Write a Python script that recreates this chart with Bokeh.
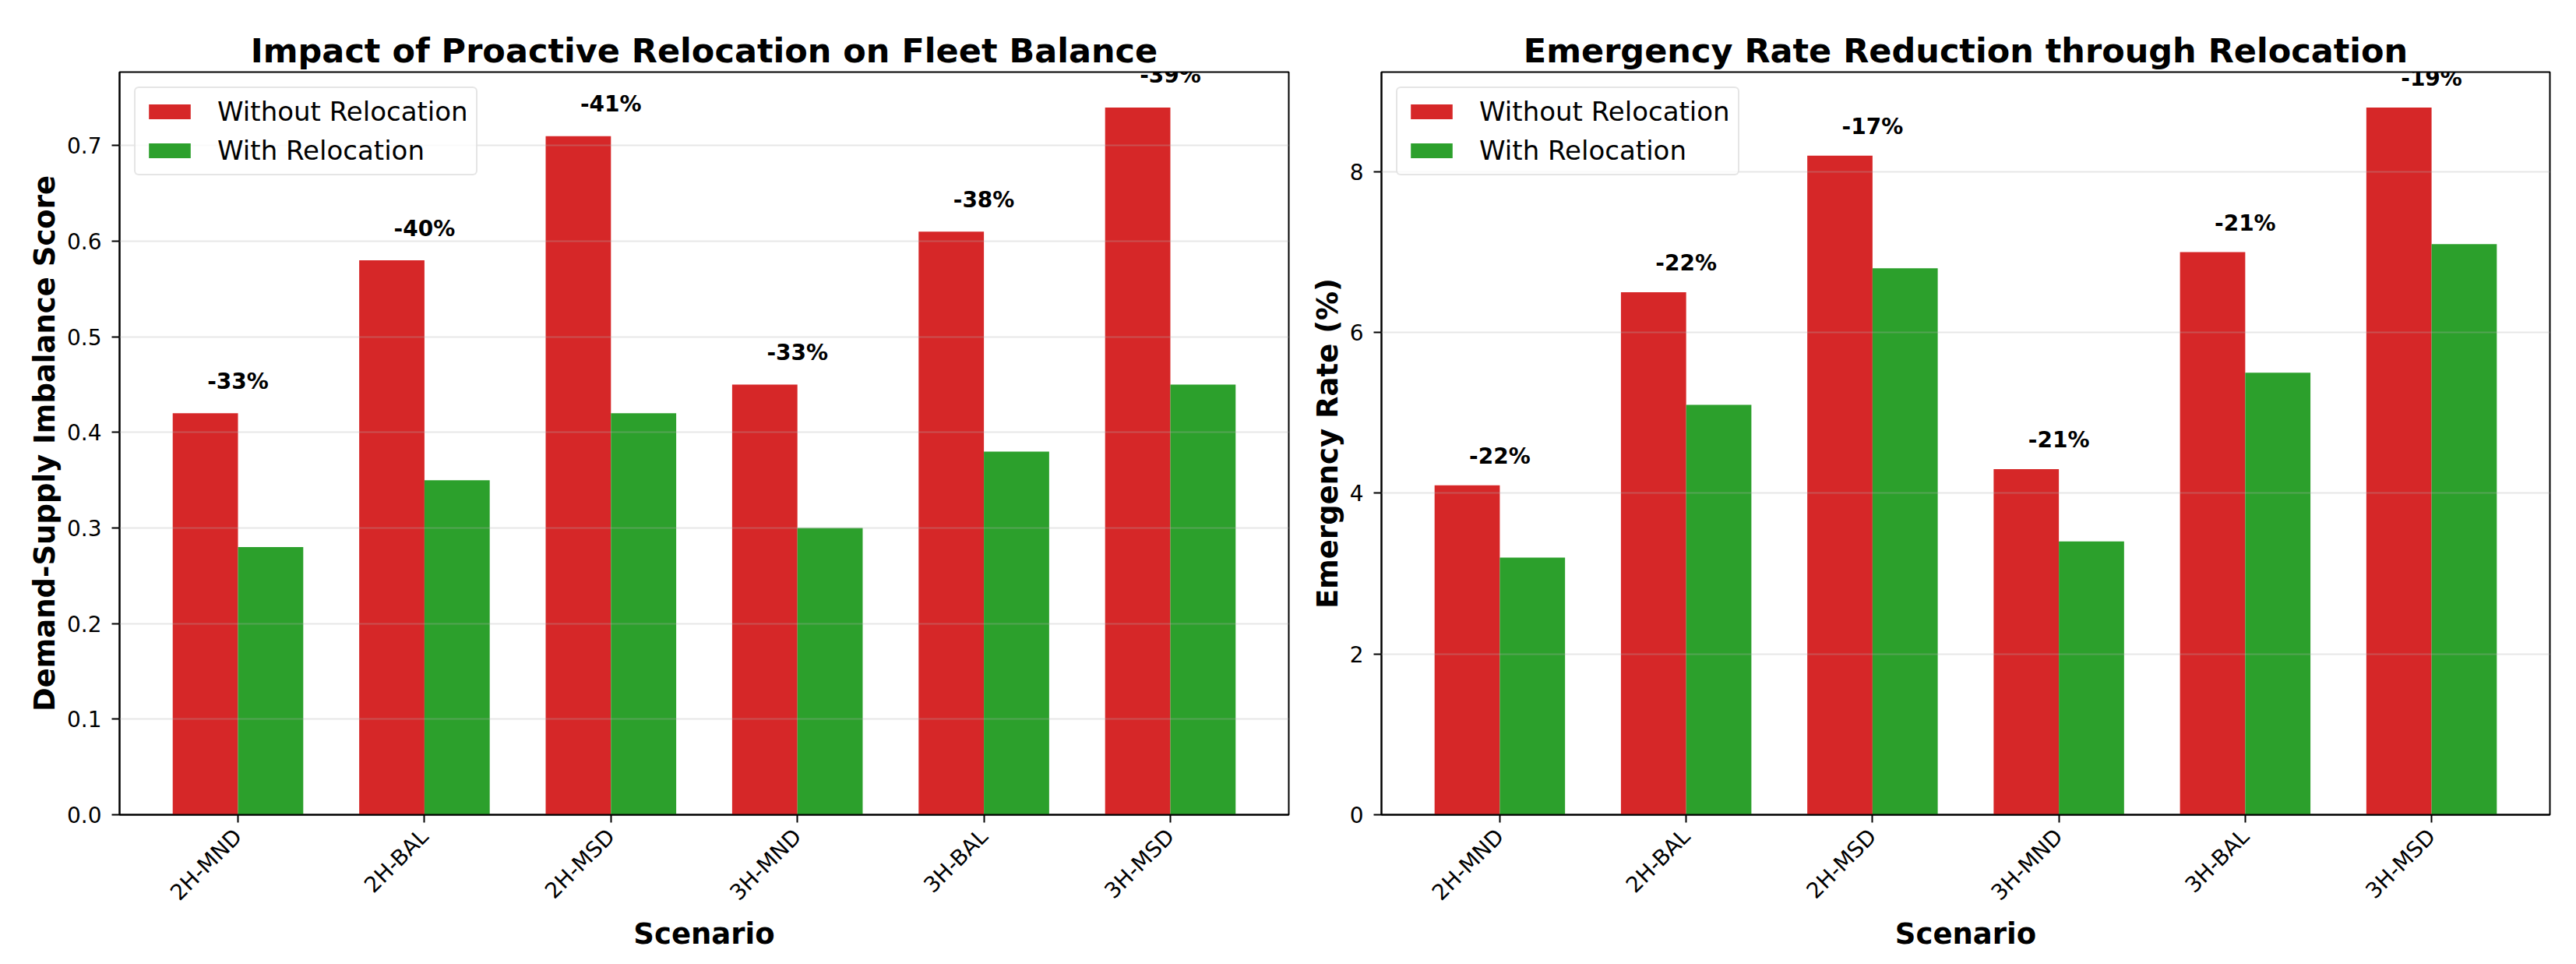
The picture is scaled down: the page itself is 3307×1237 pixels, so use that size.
import math
import numpy as np
from bokeh.plotting import figure
from bokeh.models import (ColumnDataSource, LabelSet, Legend, LegendItem,
                          FixedTicker, Range1d, PrintfTickFormatter)
from bokeh.layouts import row
from bokeh.core.properties import value
from bokeh.embed import file_html
from bokeh.resources import INLINE

# ---------------- data ----------------
scenarios = ["2H-MND", "2H-BAL", "2H-MSD", "3H-MND", "3H-BAL", "3H-MSD"]

imbalance_without = [0.42, 0.58, 0.71, 0.45, 0.61, 0.74]
imbalance_with = [0.28, 0.35, 0.42, 0.30, 0.38, 0.45]
imbalance_change = ["-33%", "-40%", "-41%", "-33%", "-38%", "-39%"]
imbalance_ticks = [0.0, 0.1, 0.2, 0.3, 0.4, 0.5, 0.6, 0.7]

emergency_without = [4.1, 6.5, 8.2, 4.3, 7.0, 8.8]
emergency_with = [3.2, 5.1, 6.8, 3.4, 5.5, 7.1]
emergency_change = ["-22%", "-22%", "-17%", "-21%", "-21%", "-19%"]
emergency_ticks = [0, 2, 4, 6, 8]

series_names = ["Without Relocation", "With Relocation"]
series_colors = ["#d62728", "#2ca02c"]

FONT = "DejaVu Sans"
BAR_W = 0.35


def make_panel(title, ylabel, without, withr, changes, ticks, fmt, offset,
               width, border_left, border_right):
    idx = np.arange(len(scenarios))
    ymax = max(without) * 1.05
    p = figure(width=width, height=1229, output_backend="svg",
               toolbar_location=None,
               x_range=Range1d(-0.635, len(scenarios) - 1 + 0.635),
               y_range=Range1d(0, ymax),
               min_border_left=border_left, min_border_right=border_right,
               min_border_top=92, min_border_bottom=184)
    p.background_fill_color = "white"
    p.border_fill_color = "white"
    p.outline_line_color = "black"
    p.outline_line_width = 2

    src = ColumnDataSource(dict(
        x0=idx - BAR_W / 2, x1=idx + BAR_W / 2, xc=idx,
        without=without, withr=withr,
        ylab=[v + offset for v in without], lab=changes))

    r1 = p.vbar(x="x0", top="without", width=BAR_W, source=src,
                fill_color=series_colors[0], line_color=None)
    r2 = p.vbar(x="x1", top="withr", width=BAR_W, source=src,
                fill_color=series_colors[1], line_color=None)

    labels = LabelSet(x="xc", y="ylab", text="lab", source=src,
                      text_align="center", text_baseline="bottom",
                      text_font=value(FONT), text_font_size="28px",
                      text_font_style="bold", text_color="black")
    p.add_layout(labels)

    # title
    p.title.text = title
    p.title.align = "center"
    p.title.text_font = FONT
    p.title.text_font_size = "43px"
    p.title.text_font_style = "bold"
    p.title.text_color = "black"
    p.title.standoff = 6

    # axes
    p.xaxis.ticker = FixedTicker(ticks=list(range(len(scenarios))))
    p.xaxis.major_label_overrides = {i: s for i, s in enumerate(scenarios)}
    p.xaxis.major_label_orientation = math.pi / 4
    p.yaxis.ticker = FixedTicker(ticks=ticks)
    p.yaxis.formatter = PrintfTickFormatter(format=fmt)
    p.xaxis.axis_label = "Scenario"
    p.yaxis.axis_label = ylabel
    for ax in (p.xaxis[0], p.yaxis[0]):
        ax.axis_label_text_font = FONT
        ax.axis_label_text_font_size = "37px"
        ax.axis_label_text_font_style = "bold"
        ax.axis_label_text_color = "black"
        ax.major_label_text_font = FONT
        ax.major_label_text_font_size = "28px"
        ax.major_label_text_color = "black"
        ax.major_label_standoff = 13
        ax.axis_line_color = "black"
        ax.axis_line_width = 2
        ax.major_tick_line_color = "black"
        ax.major_tick_line_width = 2
        ax.major_tick_in = 0
        ax.major_tick_out = 10
        ax.minor_tick_line_color = None
    p.xaxis.axis_label_standoff = 0
    p.yaxis.axis_label_standoff = 4

    # grid
    p.xgrid.visible = False
    p.ygrid.ticker = FixedTicker(ticks=ticks)
    p.ygrid.grid_line_color = "#b0b0b0"
    p.ygrid.grid_line_alpha = 0.3
    p.ygrid.grid_line_width = 2
    p.ygrid.level = "annotation"

    legend = Legend(items=[LegendItem(label=series_names[0], renderers=[r1]),
                           LegendItem(label=series_names[1], renderers=[r2])],
                    location="top_left", margin=19, padding=10, spacing=10,
                    glyph_width=67, glyph_height=24, label_standoff=28,
                    label_text_font=FONT, label_text_font_size="34px",
                    label_text_color="black",
                    border_line_color="#cccccc", border_line_width=2,
                    background_fill_color="white", background_fill_alpha=0.8)
    try:
        legend.border_radius = 6
    except Exception:
        pass
    p.add_layout(legend)
    return p


p1 = make_panel("Impact of Proactive Relocation on Fleet Balance",
                "Demand-Supply Imbalance Score",
                imbalance_without, imbalance_with, imbalance_change,
                imbalance_ticks, "%.1f", 0.02, 1663, 153, 9)
p2 = make_panel("Emergency Rate Reduction through Relocation",
                "Emergency Rate (%)",
                emergency_without, emergency_with, emergency_change,
                emergency_ticks, "%d", 0.2, 1628, 110, 18)

layout = row(p1, p2)
open("out.html", "w").write(file_html(layout, INLINE))
